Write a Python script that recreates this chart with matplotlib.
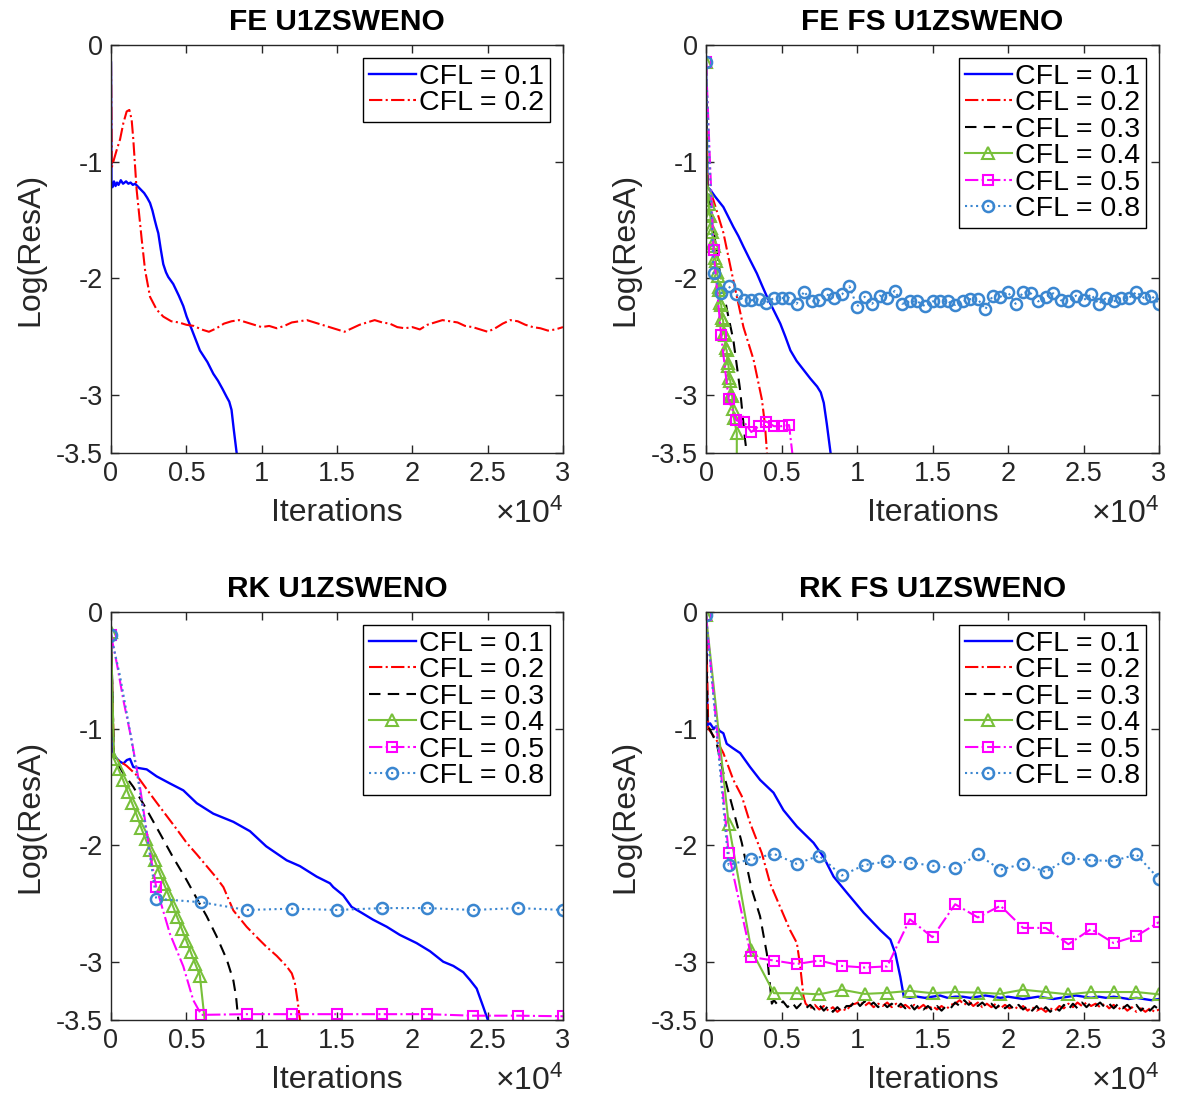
import numpy as np
import matplotlib
matplotlib.use('Agg')
import matplotlib.pyplot as plt

plt.rcParams['font.family'] = ['Liberation Sans', 'DejaVu Sans']
plt.rcParams['mathtext.fontset'] = 'custom'
plt.rcParams['mathtext.rm'] = 'Liberation Sans'
plt.rcParams['mathtext.it'] = 'Liberation Sans:italic'

# ---------------- text / ticks ----------------
titles = ['FE U1ZSWENO', 'FE FS U1ZSWENO', 'RK U1ZSWENO', 'RK FS U1ZSWENO']
cfl_labels = ['CFL = 0.1', 'CFL = 0.2', 'CFL = 0.3', 'CFL = 0.4', 'CFL = 0.5', 'CFL = 0.8']
x_ticks = [0, 5000, 10000, 15000, 20000, 25000, 30000]
x_tick_labels = ['0', '0.5', '1', '1.5', '2', '2.5', '3']
y_ticks = [-3.5, -3, -2, -1, 0]
y_tick_labels = ['-3.5', '-3', '-2', '-1', '0']
x_label = 'Iterations'
y_label = 'Log(ResA)'

# ---------------- Panel 1 : FE U1ZSWENO ----------------
fe_c01_x = [0, 30, 100, 200, 300, 400, 500, 650, 800, 1000, 1150, 1300, 1450, 1600, 1750, 1900, 2050,
            2200, 2400, 2590, 2750, 2900, 3020, 3140, 3300, 3470, 3650, 3800, 4130, 4500, 4800, 5020,
            5300, 5600, 5900, 6150, 6400, 6790, 7100, 7400, 7680, 7850, 8000, 8150, 8340, 8450]
fe_c01_y = [-0.15, -1.20, -1.22, -1.17, -1.21, -1.18, -1.20, -1.16, -1.19, -1.17, -1.19, -1.18, -1.20,
            -1.19, -1.21, -1.23, -1.25, -1.27, -1.31, -1.355, -1.42, -1.50, -1.56, -1.615, -1.75, -1.88,
            -1.95, -1.99, -2.05, -2.15, -2.24, -2.33, -2.42, -2.52, -2.62, -2.67, -2.72, -2.82, -2.88,
            -2.95, -3.02, -3.06, -3.13, -3.30, -3.50, -3.65]
fe_c02_head_x = [0, 50, 200, 380, 600, 820, 1040, 1220, 1370, 1480, 1700, 2040, 2260, 2590, 3030, 3470]
fe_c02_head_y = [-0.15, -1.05, -0.98, -0.90, -0.81, -0.67, -0.57, -0.557, -0.64, -0.81, -1.24, -1.67,
                 -1.93, -2.16, -2.27, -2.33]
fe_c02_tail_start, fe_c02_tail_step = 4000, 500
fe_c02_tail_y = [-2.37, -2.38, -2.40, -2.41, -2.44, -2.46, -2.43, -2.39, -2.37, -2.36, -2.38, -2.40,
                 -2.42, -2.41, -2.43, -2.41, -2.38, -2.37, -2.36, -2.38, -2.40, -2.42, -2.44, -2.46,
                 -2.43, -2.40, -2.38, -2.36, -2.38, -2.39, -2.42, -2.43, -2.42, -2.44, -2.40, -2.38,
                 -2.36, -2.37, -2.38, -2.41, -2.42, -2.44, -2.46, -2.43, -2.39, -2.36, -2.37, -2.40,
                 -2.42, -2.43, -2.45, -2.44, -2.42]

# ---------------- Panel 2 : FE FS U1ZSWENO ----------------
fefs_c01_x = [0, 100, 270, 600, 1150, 1500, 1810, 2150, 2480, 2900, 3370, 3700, 4040, 4500, 4920, 5250,
              5590, 6000, 6480, 6900, 7360, 7600, 7800, 8000, 8250, 8350]
fefs_c01_y = [-0.15, -1.22, -1.24, -1.30, -1.39, -1.48, -1.56, -1.64, -1.73, -1.84, -1.96, -2.06, -2.16,
              -2.28, -2.39, -2.50, -2.62, -2.71, -2.79, -2.86, -2.93, -2.98, -3.07, -3.25, -3.50, -3.65]
fefs_c02_x = [0, 100, 490, 1150, 1810, 2480, 3150, 3700, 3900, 4040, 4100]
fefs_c02_y = [-0.15, -1.20, -1.33, -1.61, -2.02, -2.42, -2.70, -3.04, -3.25, -3.50, -3.65]
fefs_c03_x = [0, 80, 400, 930, 1400, 1810, 2260, 2590, 2700, 2750]
fefs_c03_y = [-0.15, -1.20, -1.50, -1.96, -2.28, -2.53, -2.96, -3.39, -3.50, -3.65]
fefs_c04_x = [0, 50, 110, 170, 230, 290, 350, 410, 470, 530, 590, 650, 710, 770, 830, 890, 950, 1010,
              1070, 1130, 1190, 1250, 1310, 1370, 1430, 1490, 1550, 1610, 1670, 1730, 1790, 1850, 2040, 2040]
fefs_c04_y = [-0.15, -1.25, -1.33, -1.36, -1.45, -1.47, -1.57, -1.60, -1.70, -1.72, -1.83, -1.85, -1.95,
              -1.98, -2.08, -2.10, -2.21, -2.23, -2.34, -2.36, -2.47, -2.49, -2.60, -2.62, -2.73, -2.75,
              -2.86, -2.88, -2.99, -3.01, -3.12, -3.20, -3.33, -3.65]
fefs_c05_x = [0, 500, 1000, 1500, 2000, 2500, 3000, 3500, 4000, 4500, 5000, 5500, 5850]
fefs_c05_y = [-0.15, -1.76, -2.49, -3.04, -3.22, -3.23, -3.32, -3.27, -3.23, -3.27, -3.27, -3.26, -3.65]
fefs_c08_start, fefs_c08_step = 0, 500
fefs_c08_y = [-0.15, -1.96, -2.13, -2.07, -2.14, -2.19, -2.19, -2.18, -2.21, -2.17, -2.17, -2.17, -2.22,
              -2.115, -2.20, -2.19, -2.14, -2.17, -2.14, -2.07, -2.244, -2.16, -2.22, -2.15, -2.17,
              -2.11, -2.22, -2.20, -2.20, -2.24, -2.20, -2.20, -2.20, -2.23, -2.20, -2.18, -2.18,
              -2.267, -2.15, -2.16, -2.12, -2.22, -2.12, -2.13, -2.20, -2.16, -2.13, -2.19, -2.20,
              -2.15, -2.19, -2.14, -2.22, -2.17, -2.20, -2.17, -2.17, -2.12, -2.17, -2.15, -2.22]

# ---------------- Panel 3 : RK U1ZSWENO ----------------
rk_c01_x = [0, 150, 270, 550, 820, 1050, 1260, 1480, 1900, 2370, 3030, 3900, 4800, 5690, 6790, 8120,
            9220, 10300, 11660, 12540, 13650, 14530, 14750, 15410, 15970, 16630, 17400, 18300, 19170,
            20280, 21170, 22050, 22720, 23380, 23820, 24270, 24700, 25040, 25100]
rk_c01_y = [-0.15, -1.20, -1.24, -1.28, -1.30, -1.27, -1.26, -1.33, -1.34, -1.35, -1.41, -1.47, -1.53,
            -1.64, -1.73, -1.80, -1.88, -2.01, -2.13, -2.18, -2.27, -2.327, -2.36, -2.43, -2.53, -2.58,
            -2.64, -2.70, -2.77, -2.84, -2.91, -3.00, -3.036, -3.09, -3.156, -3.23, -3.385, -3.51, -3.60]
rk_c02_x = [0, 200, 600, 1040, 1700, 2370, 3000, 3700, 4400, 5020, 5700, 6350, 7000, 7460, 8120, 9000,
            9600, 10300, 11000, 11660, 12000, 12200, 12400, 12540, 12600]
rk_c02_y = [-0.20, -1.25, -1.28, -1.32, -1.40, -1.52, -1.63, -1.75, -1.87, -1.98, -2.08, -2.18, -2.28,
            -2.36, -2.56, -2.70, -2.78, -2.87, -2.95, -3.04, -3.10, -3.18, -3.35, -3.50, -3.60]
rk_c03_x = [0, 200, 800, 1480, 2300, 3250, 4100, 5020, 5700, 6350, 7000, 7680, 8120, 8300, 8450, 8500]
rk_c03_y = [-0.20, -1.25, -1.38, -1.50, -1.68, -1.90, -2.10, -2.30, -2.46, -2.61, -2.78, -2.98, -3.16,
            -3.30, -3.50, -3.60]
rk_c04_x = [0, 200, 500, 800, 1100, 1400, 1700, 2000, 2300, 2600, 2900, 3200, 3500, 3800, 4100, 4400,
            4700, 5000, 5300, 5600, 5900, 6300]
rk_c04_y = [-0.17, -1.26, -1.35, -1.44, -1.54, -1.64, -1.74, -1.85, -1.95, -2.04, -2.13, -2.23, -2.33,
            -2.42, -2.52, -2.62, -2.72, -2.82, -2.92, -3.02, -3.12, -3.60]
rk_c05_x = [0, 400, 820, 1370, 1920, 2590, 3000, 3910, 4800, 5460, 6000, 9000, 12000, 15000, 18000,
            21000, 24000, 27000, 30000]
rk_c05_y = [-0.20, -0.45, -0.755, -1.10, -1.50, -2.07, -2.36, -2.76, -3.04, -3.33, -3.456, -3.45, -3.45,
            -3.45, -3.45, -3.45, -3.463, -3.463, -3.468]
rk_c08_x = [0, 600, 1300, 2000, 2600, 3000, 6000, 9000, 12000, 15000, 18000, 21000, 24000, 27000, 30000]
rk_c08_y = [-0.20, -0.55, -1.05, -1.60, -2.10, -2.46, -2.49, -2.556, -2.545, -2.556, -2.54, -2.54,
            -2.556, -2.54, -2.556]

# ---------------- Panel 4 : RK FS U1ZSWENO ----------------
rkfs_c01_head_x = [0, 100, 270, 500, 710, 900, 1150, 1370, 1800, 2260, 2920, 3580, 4470, 5130, 6020,
                   7120, 7780, 8450, 9340, 10440, 11550, 12210, 12540, 12870, 13100]
rkfs_c01_head_y = [-0.03, -0.97, -0.955, -1.00, -0.98, -1.02, -1.04, -1.13, -1.17, -1.21, -1.33, -1.44,
                   -1.55, -1.70, -1.84, -1.98, -2.10, -2.27, -2.41, -2.58, -2.73, -2.81, -2.93, -3.13,
                   -3.30]
rkfs_c01_tail_start, rkfs_c01_tail_step = 13500, 500
rkfs_c01_tail_y = [-3.31, -3.30, -3.31, -3.30, -3.29, -3.31, -3.30, -3.30, -3.31, -3.30, -3.29, -3.30,
                   -3.31, -3.30, -3.31, -3.32, -3.31, -3.30, -3.31, -3.32, -3.31, -3.30, -3.29, -3.30,
                   -3.31, -3.30, -3.31, -3.30, -3.31, -3.32, -3.31, -3.32, -3.33, -3.32]
rkfs_c02_head_x = [0, 150, 700, 1150, 1810, 2370, 2920, 3700, 4250, 4910, 5570, 6020, 6240, 6460]
rkfs_c02_head_y = [-0.03, -1.00, -1.10, -1.21, -1.44, -1.58, -1.81, -2.07, -2.33, -2.53, -2.73, -2.84,
                   -3.04, -3.30]
rkfs_c02_tail_start, rkfs_c02_tail_step = 6600, 300
rkfs_c02_tail_y = [-3.36, -3.40, -3.37, -3.41, -3.38, -3.42, -3.39, -3.43, -3.40, -3.42, -3.37, -3.36,
                   -3.34, -3.38, -3.35, -3.39, -3.36, -3.38, -3.35, -3.39, -3.36, -3.39, -3.37, -3.40,
                   -3.37, -3.40, -3.37, -3.41, -3.38, -3.41, -3.38, -3.41, -3.37, -3.36, -3.33, -3.37,
                   -3.34, -3.38, -3.35, -3.39, -3.36, -3.39, -3.36, -3.40, -3.37, -3.40, -3.38, -3.41,
                   -3.38, -3.42, -3.39, -3.42, -3.40, -3.43, -3.40, -3.42, -3.38, -3.40, -3.36, -3.39,
                   -3.35, -3.38, -3.35, -3.38, -3.36, -3.39, -3.36, -3.40, -3.37, -3.41, -3.38, -3.42,
                   -3.39, -3.43, -3.40, -3.43, -3.40, -3.43, -3.41]
rkfs_c03_head_x = [0, 100, 270, 710, 1150, 1810, 2370, 3030, 3580, 4030, 4360]
rkfs_c03_head_y = [-0.03, -0.97, -1.01, -1.13, -1.38, -1.70, -1.98, -2.38, -2.61, -2.93, -3.36]
rkfs_c03_tail_start, rkfs_c03_tail_step = 4500, 300
rkfs_c03_tail_y = [-3.33, -3.38, -3.34, -3.39, -3.35, -3.40, -3.36, -3.40, -3.37, -3.41, -3.37, -3.42,
                   -3.38, -3.43, -3.39, -3.43, -3.38, -3.38, -3.33, -3.38, -3.34, -3.38, -3.35, -3.39,
                   -3.35, -3.39, -3.36, -3.40, -3.36, -3.40, -3.36, -3.41, -3.37, -3.41, -3.38, -3.42,
                   -3.38, -3.42, -3.38, -3.40, -3.35, -3.38, -3.33, -3.37, -3.34, -3.38, -3.35, -3.39,
                   -3.36, -3.40, -3.36, -3.40, -3.37, -3.41, -3.37, -3.41, -3.38, -3.42, -3.38, -3.43,
                   -3.39, -3.43, -3.39, -3.42, -3.37, -3.41, -3.36, -3.40, -3.35, -3.39, -3.35, -3.38,
                   -3.35, -3.39, -3.36, -3.40, -3.36, -3.40, -3.37, -3.41, -3.37, -3.42, -3.38, -3.42,
                   -3.38, -3.41]
rkfs_coarse_start, rkfs_coarse_step = 0, 1500
rkfs_c04_y = [-0.03, -1.82, -2.90, -3.27, -3.27, -3.28, -3.24, -3.276, -3.267, -3.25, -3.27, -3.26,
              -3.265, -3.275, -3.24, -3.26, -3.28, -3.26, -3.26, -3.26, -3.28]
rkfs_c05_y = [-0.03, -2.07, -2.96, -2.99, -3.02, -2.99, -3.036, -3.05, -3.04, -2.636, -2.79, -2.507,
              -2.62, -2.52, -2.71, -2.71, -2.85, -2.72, -2.84, -2.78, -2.66]
rkfs_c08_y = [-0.03, -2.17, -2.12, -2.075, -2.16, -2.09, -2.26, -2.17, -2.14, -2.15, -2.176, -2.20,
              -2.08, -2.21, -2.16, -2.23, -2.11, -2.13, -2.135, -2.08, -2.29]


def grid(start, step, values):
    return [start + step * i for i in range(len(values))]


def mark_idx(xs, step):
    return [i for i, v in enumerate(xs) if v % step == 0 and v <= 30000]


# ---------------- styles ----------------
styles = [
    dict(color='#0000FF', ls='-', lw=1.7),
    dict(color='#FF0000', ls='-.', lw=1.5),
    dict(color='#000000', ls=(0, (5.5, 3.5)), lw=1.5),
    dict(color='#78C03A', ls='-', lw=1.5, marker='^', mfc='none', ms=8, mew=1.5),
    dict(color='#FF00FF', ls='-.', lw=1.5, marker='s', mfc='none', ms=7, mew=1.5),
    dict(color='#3A86D0', ls=':', lw=1.5, marker='o', mfc='none', ms=8, mew=1.8),
]

fig = plt.figure(figsize=(11.77, 11.02), dpi=100)
W, H = 1177.0, 1102.0
boxes = [(111, 45, 563, 453), (706, 45, 1159, 453), (111, 612, 563, 1020), (706, 612, 1159, 1020)]
axes = []
for (l, t, r, b) in boxes:
    axes.append(fig.add_axes([l / W, 1 - b / H, (r - l) / W, (b - t) / H]))

# panel series: (x, y, style index, markevery)
p1 = [
    (fe_c01_x, fe_c01_y, 0, None),
    (fe_c02_head_x + grid(fe_c02_tail_start, fe_c02_tail_step, fe_c02_tail_y),
     fe_c02_head_y + fe_c02_tail_y, 1, None),
]
fefs_c08_x = grid(fefs_c08_start, fefs_c08_step, fefs_c08_y)
p2 = [
    (fefs_c01_x, fefs_c01_y, 0, None),
    (fefs_c02_x, fefs_c02_y, 1, None),
    (fefs_c03_x, fefs_c03_y, 2, None),
    (fefs_c04_x, fefs_c04_y, 3, None),
    (fefs_c05_x, fefs_c05_y, 4, None),
    (fefs_c08_x, fefs_c08_y, 5, None),
]
p3 = [
    (rk_c01_x, rk_c01_y, 0, None),
    (rk_c02_x, rk_c02_y, 1, None),
    (rk_c03_x, rk_c03_y, 2, None),
    (rk_c04_x, rk_c04_y, 3, None),
    (rk_c05_x, rk_c05_y, 4, mark_idx(rk_c05_x, 3000)),
    (rk_c08_x, rk_c08_y, 5, mark_idx(rk_c08_x, 3000)),
]
rkfs_coarse_x = grid(rkfs_coarse_start, rkfs_coarse_step, rkfs_c04_y)
p4 = [
    (rkfs_c01_head_x + grid(rkfs_c01_tail_start, rkfs_c01_tail_step, rkfs_c01_tail_y),
     rkfs_c01_head_y + rkfs_c01_tail_y, 0, None),
    (rkfs_c02_head_x + grid(rkfs_c02_tail_start, rkfs_c02_tail_step, rkfs_c02_tail_y),
     rkfs_c02_head_y + rkfs_c02_tail_y, 1, None),
    (rkfs_c03_head_x + grid(rkfs_c03_tail_start, rkfs_c03_tail_step, rkfs_c03_tail_y),
     rkfs_c03_head_y + rkfs_c03_tail_y, 2, None),
    (rkfs_coarse_x, rkfs_c04_y, 3, None),
    (rkfs_coarse_x, rkfs_c05_y, 4, None),
    (rkfs_coarse_x, rkfs_c08_y, 5, None),
]

axis_col = '#262626'
for ax, series, title in zip(axes, [p1, p2, p3, p4], titles):
    for x, y, si, me in series:
        st = dict(styles[si])
        ax.plot(x, y, label=cfl_labels[si], markevery=me, **st)
    ax.set_xlim(0, 30000)
    ax.set_ylim(-3.5, 0)
    ax.set_xticks(x_ticks)
    ax.set_xticklabels(x_tick_labels)
    ax.set_yticks(y_ticks)
    ax.set_yticklabels(y_tick_labels)
    ax.tick_params(direction='in', top=True, right=True, length=6, width=1.0,
                   labelsize=19.5, colors=axis_col, labelcolor=axis_col, pad=6)
    for sp in ax.spines.values():
        sp.set_color(axis_col)
        sp.set_linewidth(1.0)
    ax.set_title(title, fontsize=21.5, fontweight='bold', pad=11, color='black')
    ax.set_xlabel(x_label, fontsize=23, color=axis_col)
    ax.set_ylabel(y_label, fontsize=23, color=axis_col)
    ax.xaxis.set_label_coords(0.5, -0.11)
    ax.yaxis.set_label_coords(-0.145, 0.5)
    ax.text(1.0, -0.112, r'$\times\mathregular{10^{4}}$', transform=ax.transAxes,
            ha='right', va='top', fontsize=23, color=axis_col)
    leg = ax.legend(loc='upper right', fontsize=20.5, frameon=True, fancybox=False,
                    edgecolor='black', framealpha=1, borderaxespad=0.45, borderpad=0.2,
                    labelspacing=0.02, handlelength=1.65, handletextpad=0.12, numpoints=1)
    leg.get_frame().set_linewidth(1.0)

fig.savefig('out.png', dpi=100)
